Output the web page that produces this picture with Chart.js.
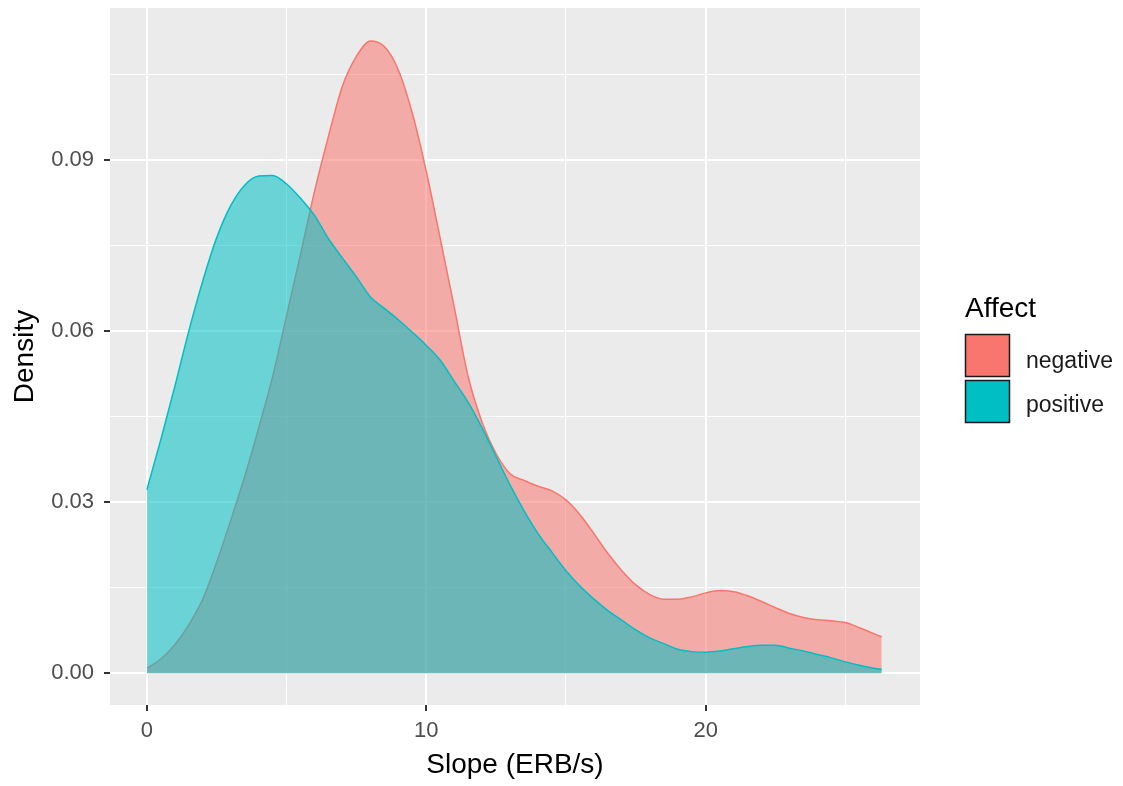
<!DOCTYPE html>
<html>
<head>
<meta charset="utf-8">
<script src="https://cdn.jsdelivr.net/npm/chart.js@4"></script>
<style>
  html, body { margin: 0; padding: 0; background: #ffffff; }
</style>
</head>
<body>
<canvas id="densityChart" width="1123" height="786"></canvas>
<script>
// slope values (ERB/s) where the density curves were read
const slope = [0, 0.5, 1, 1.5, 2, 2.5, 3, 3.5, 4, 4.5, 5, 5.5, 6, 6.5, 7, 7.5, 8, 8.5, 9, 9.5,
  10, 10.5, 11, 11.5, 12, 12.5, 13, 13.5, 14, 14.5, 15, 15.5, 16, 16.5, 17, 17.5, 18, 18.5, 19, 19.5,
  20, 20.5, 21, 21.5, 22, 22.5, 23, 23.5, 24, 24.5, 25, 25.5, 26, 26.3];

const negative = [0.0009, 0.0025, 0.0050, 0.0085, 0.0130, 0.0195, 0.0268, 0.0345, 0.0430, 0.0520,
  0.0627, 0.0735, 0.0845, 0.0942, 0.1030, 0.1082, 0.1109, 0.1099, 0.1058, 0.0982,
  0.0880, 0.0762, 0.0642, 0.0520, 0.0440, 0.0385, 0.0350, 0.0338, 0.0328, 0.0320,
  0.0304, 0.0278, 0.0245, 0.0210, 0.0180, 0.0155, 0.0138, 0.0130, 0.0130, 0.0134,
  0.0141, 0.0145, 0.0143, 0.0136, 0.0126, 0.0115, 0.0105, 0.0098, 0.0094, 0.0092,
  0.0089, 0.0080, 0.0070, 0.0064];

const positive = [0.0322, 0.0410, 0.0503, 0.0600, 0.0688, 0.0764, 0.0820, 0.0856, 0.0872, 0.0873,
  0.0858, 0.0833, 0.0803, 0.0762, 0.0728, 0.0695, 0.0660, 0.0640, 0.0620, 0.0598,
  0.0575, 0.0549, 0.0512, 0.0475, 0.0430, 0.0380, 0.0330, 0.0285, 0.0245, 0.0212,
  0.0180, 0.0153, 0.0130, 0.0110, 0.0093, 0.0076, 0.0062, 0.0052, 0.0042, 0.0038,
  0.0037, 0.0039, 0.0043, 0.0047, 0.0049, 0.0049, 0.0044, 0.0039, 0.0033, 0.0027,
  0.0020, 0.0014, 0.0009, 0.0007];

const seriesNames = ['negative', 'positive'];
const legendTitle = 'Affect';

const xTickValues = [0, 10, 20];
const xTickLabels = ['0', '10', '20'];
const xMinorValues = [5, 15, 25];
const yTickValues = [0, 0.03, 0.06, 0.09];
const yTickLabels = ['0.00', '0.03', '0.06', '0.09'];
const yMinorValues = [0.015, 0.045, 0.075, 0.105];

const COLORS = ['#F8766D', '#00BFC4'];
const FILLS = ['rgba(248, 118, 109, 0.55)', 'rgba(0, 191, 196, 0.55)'];
const FONT = '"Liberation Sans", Arial, sans-serif';

const toPoints = arr => arr.map((v, i) => ({ x: slope[i], y: v }));
const xGrid = [...xTickValues, ...xMinorValues].sort((a, b) => a - b);
const yGrid = [...yTickValues, ...yMinorValues].sort((a, b) => a - b);

// grey panel + white page
const panelBackground = {
  id: 'panelBackground',
  beforeDraw(chart) {
    const { ctx, chartArea: a } = chart;
    ctx.save();
    ctx.fillStyle = '#ffffff';
    ctx.fillRect(0, 0, chart.width, chart.height);
    ctx.fillStyle = '#EBEBEB';
    ctx.fillRect(a.left, a.top, a.right - a.left, a.bottom - a.top);
    ctx.restore();
  }
};

// ggplot-style legend on the right
const sideLegend = {
  id: 'sideLegend',
  afterDraw(chart) {
    const ctx = chart.ctx;
    ctx.save();
    ctx.textAlign = 'left';
    ctx.textBaseline = 'alphabetic';
    ctx.fillStyle = '#000000';
    ctx.font = '28px ' + FONT;
    ctx.fillText(legendTitle, 965, 317);
    const keyTops = [334, 380];
    const baselines = [368, 412];
    seriesNames.forEach((name, i) => {
      ctx.fillStyle = COLORS[i];
      ctx.fillRect(965, keyTops[i], 45, 43);
      ctx.strokeStyle = '#1a1a1a';
      ctx.lineWidth = 1.5;
      ctx.strokeRect(965.5, keyTops[i] + 0.5, 44, 42);
      ctx.fillStyle = '#1a1a1a';
      ctx.font = '23px ' + FONT;
      ctx.fillText(name, 1026, baselines[i]);
    });
    ctx.restore();
  }
};

const isIn = (list, v) => list.some(t => Math.abs(t - v) < 1e-9);

const ctx = document.getElementById('densityChart');
const densityChart = new Chart(ctx, {
  type: 'line',
  data: {
    datasets: [
      {
        label: seriesNames[0],
        data: toPoints(negative),
        borderColor: COLORS[0],
        backgroundColor: FILLS[0],
        fill: 'origin',
        order: 1
      },
      {
        label: seriesNames[1],
        data: toPoints(positive),
        borderColor: COLORS[1],
        backgroundColor: FILLS[1],
        fill: 'origin',
        order: 0
      }
    ]
  },
  options: {
    responsive: false,
    animation: false,
    devicePixelRatio: 1,
    layout: { padding: { left: 0, top: 8, right: 203, bottom: 0 } },
    elements: {
      point: { radius: 0, hoverRadius: 0 },
      line: { borderWidth: 1.5, cubicInterpolationMode: 'monotone' }
    },
    plugins: {
      legend: { display: false },
      tooltip: { enabled: false }
    },
    scales: {
      x: {
        type: 'linear',
        min: -1.32,
        max: 27.67,
        afterFit(scale) {
          scale.height = 81;
          scale.paddingLeft = 0;
          scale.paddingRight = 0;
        },
        afterBuildTicks(scale) { scale.ticks = xGrid.map(v => ({ value: v })); },
        border: { display: false },
        grid: {
          color: '#ffffff',
          lineWidth: c => (c.tick && isIn(xTickValues, c.tick.value)) ? 2 : 1,
          tickColor: c => (c.tick && isIn(xTickValues, c.tick.value)) ? '#333333' : 'rgba(0,0,0,0)',
          tickLength: 6,
          tickWidth: 2
        },
        ticks: {
          autoSkip: false,
          maxRotation: 0,
          padding: 7,
          color: '#4D4D4D',
          font: { family: FONT, size: 22 },
          callback: v => { const i = xTickValues.indexOf(v); return i >= 0 ? xTickLabels[i] : ''; }
        },
        title: {
          display: true,
          text: 'Slope (ERB/s)',
          color: '#000000',
          font: { family: FONT, size: 28 },
          padding: { top: 0, bottom: 4 }
        }
      },
      y: {
        min: -0.00556,
        max: 0.11667,
        afterFit(scale) {
          scale.width = 110;
          scale.paddingTop = 0;
          scale.paddingBottom = 0;
        },
        afterBuildTicks(scale) { scale.ticks = yGrid.map(v => ({ value: v })); },
        border: { display: false },
        grid: {
          color: '#ffffff',
          lineWidth: c => (c.tick && isIn(yTickValues, c.tick.value)) ? 2 : 1,
          tickColor: c => (c.tick && isIn(yTickValues, c.tick.value)) ? '#333333' : 'rgba(0,0,0,0)',
          tickLength: 6,
          tickWidth: 2
        },
        ticks: {
          autoSkip: false,
          padding: 10,
          color: '#4D4D4D',
          font: { family: FONT, size: 22 },
          callback: v => { const i = yTickValues.indexOf(v); return i >= 0 ? yTickLabels[i] : ''; }
        },
        title: {
          display: true,
          text: 'Density',
          color: '#000000',
          font: { family: FONT, size: 28 },
          padding: { top: 8, bottom: 0 }
        }
      }
    }
  },
  plugins: [panelBackground, sideLegend]
});
</script>
</body>
</html>
